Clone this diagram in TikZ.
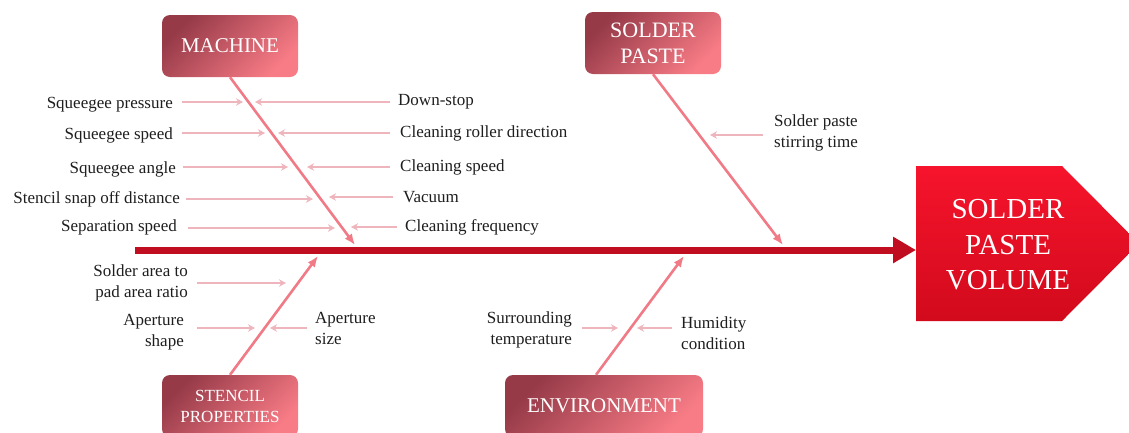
\documentclass[tikz,border=0pt]{standalone}
\usepackage{fontspec}
\setmainfont{Liberation Serif}
\usetikzlibrary{arrows.meta,calc}
\definecolor{boxdark}{RGB}{150,58,72}
\definecolor{boxlight}{RGB}{248,124,134}
\definecolor{bonecol}{RGB}{240,122,133}
\definecolor{twigcol}{RGB}{238,182,188}
\definecolor{spinecol}{RGB}{192,14,32}
\definecolor{headtop}{RGB}{246,20,44}
\definecolor{headbot}{RGB}{210,10,28}
\definecolor{ink}{RGB}{30,30,30}
\begin{document}
\begin{tikzpicture}[x=1pt,y=-1pt,
  catbox/.style={rounded corners=8pt, minimum width=136pt, minimum height=62pt,
    top color=boxdark, bottom color=boxlight, shading angle=45,
    text=white, align=center, inner sep=2pt},
  lbl/.style={font=\fontsize{17}{21}\selectfont, text=ink, inner sep=0pt},
  twigarrow/.style={draw=twigcol, line width=2.4pt, -{Stealth[length=7pt,width=7.5pt]}},
  bonearrow/.style={draw=bonecol, line width=2.6pt, -{Latex[length=11pt,width=9pt]}},
  spinearrow/.style={draw=spinecol, line width=7pt, -{Triangle[length=23pt,width=25pt]}}
]
\useasboundingbox (0,0) rectangle (1129,432);
\clip (0,0) rectangle (1129,432);

% effect head
\path[top color=headtop, bottom color=headbot]
  (916,166) -- (1062,166) -- (1139,243.5) -- (1062,321) -- (916,321) -- cycle;
\node[text=white, align=center, font=\fontsize{29}{35.5}\selectfont] (out) at (1008,245) {SOLDER\\PASTE\\VOLUME};

% spine
\coordinate (spineL) at (135,250);
\coordinate (outW) at (916,250);
\draw[spinearrow] (spineL) -- (outW);

% category boxes
\node[catbox, font=\fontsize{21}{26}\selectfont] (machine) at (230,46) {MACHINE};
\node[catbox, font=\fontsize{22}{26}\selectfont] (paste) at (653,43) {SOLDER\\PASTE};
\node[catbox, font=\fontsize{17}{21}\selectfont] (stencil) at (230,406) {STENCIL\\PROPERTIES};
\node[catbox, minimum width=198pt, font=\fontsize{21}{26}\selectfont] (env) at (604,406) {ENVIRONMENT};

% bones
\coordinate (mT) at (355,245);
\coordinate (sT) at (783,245);
\coordinate (stT) at (318,256);
\coordinate (eT) at (684,256);
\draw[bonearrow] (machine.south) -- (mT);
\draw[bonearrow] (paste.south) -- (sT);
\draw[bonearrow] (stencil.north) -- (stT);
\draw[bonearrow] ([xshift=-8pt]env.north) -- (eT);

% machine causes, left
\node[lbl, anchor=east] (l1) at (173,105) {Squeegee pressure};
\node[lbl, anchor=east] (l2) at (173,135) {Squeegee speed};
\node[lbl, anchor=east] (l3) at (176,169) {Squeegee angle};
\node[lbl, anchor=east] (l4) at (180,199) {Stencil snap off distance};
\node[lbl, anchor=east] (l5) at (177,227) {Separation speed};
\coordinate (l1t) at (243,102);
\coordinate (l2t) at (265,133);
\coordinate (l3t) at (288,167);
\coordinate (l4t) at (313,199);
\coordinate (l5t) at (335,228);
\draw[twigarrow] ([shift={(9,-3)}]l1.east) -- (l1t);
\draw[twigarrow] ([shift={(9,-2)}]l2.east) -- (l2t);
\draw[twigarrow] ([shift={(7,-2)}]l3.east) -- (l3t);
\draw[twigarrow] ([shift={(6,0)}]l4.east) -- (l4t);
\draw[twigarrow] ([shift={(11,1)}]l5.east) -- (l5t);

% machine causes, right
\node[lbl, anchor=west] (r1) at (398,102) {Down-stop};
\node[lbl, anchor=west] (r2) at (400,133) {Cleaning roller direction};
\node[lbl, anchor=west] (r3) at (400,167) {Cleaning speed};
\node[lbl, anchor=west] (r4) at (403,197) {Vacuum};
\node[lbl, anchor=west] (r5) at (405,227) {Cleaning frequency};
\coordinate (r1t) at (255,102);
\coordinate (r2t) at (278,133);
\coordinate (r3t) at (307,167);
\coordinate (r4t) at (329,197);
\coordinate (r5t) at (351,227);
\draw[twigarrow] ([shift={(-8,0)}]r1.west) -- (r1t);
\draw[twigarrow] ([shift={(-10,0)}]r2.west) -- (r2t);
\draw[twigarrow] ([shift={(-10,0)}]r3.west) -- (r3t);
\draw[twigarrow] ([shift={(-10,0)}]r4.west) -- (r4t);
\draw[twigarrow] ([shift={(-8,0)}]r5.west) -- (r5t);

% solder paste cause
\node[lbl, anchor=west, align=left] (stir) at (774,133) {Solder paste\\stirring time};
\coordinate (stirt) at (710,135);
\draw[twigarrow] ([shift={(-11,2)}]stir.west) -- (stirt);

% stencil causes
\node[lbl, anchor=east, align=right] (sa) at (188,283) {Solder area to\\pad area ratio};
\node[lbl, anchor=east, align=right] (as) at (184,332) {Aperture\\shape};
\node[lbl, anchor=west, align=left] (az) at (315,328) {Aperture\\size};
\coordinate (sat) at (286,283);
\coordinate (ast) at (255,328);
\coordinate (azt) at (270,328);
\draw[twigarrow] ([shift={(9,0)}]sa.east) -- (sat);
\draw[twigarrow] ([shift={(13,-4)}]as.east) -- (ast);
\draw[twigarrow] ([shift={(-8,0)}]az.west) -- (azt);

% environment causes
\node[lbl, anchor=east, align=right] (st) at (572,330) {Surrounding\\temperature};
\node[lbl, anchor=west, align=left] (hc) at (681,333) {Humidity\\condition};
\coordinate (stt) at (618,328);
\coordinate (hct) at (637,328);
\draw[twigarrow] ([shift={(10,-2)}]st.east) -- (stt);
\draw[twigarrow] ([shift={(-9,-5)}]hc.west) -- (hct);
\end{tikzpicture}
\end{document}
